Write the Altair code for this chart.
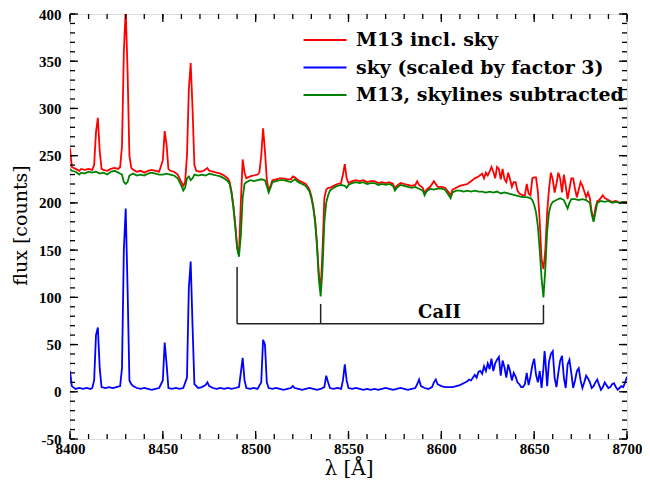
import altair as alt
import pandas as pd

# ---- data (wavelength [A], flux [counts]) ----
m13_sky = [
    (8400, 258), (8401, 238), (8403, 236), (8405, 234), (8406, 236), (8408, 235), (8410, 236),
    (8412, 235), (8413, 240), (8414, 275), (8415, 290), (8416, 255), (8417, 236), (8418, 235),
    (8420, 234), (8422, 236), (8424, 237), (8426, 236), (8427, 238), (8428, 260), (8429, 360),
    (8430, 405), (8431, 340), (8432, 250), (8433, 237), (8434, 235), (8436, 233), (8438, 234),
    (8440, 232), (8442, 234), (8444, 235), (8446, 234), (8448, 233), (8450, 245), (8451, 276),
    (8452, 262), (8453, 236), (8454, 234), (8456, 233), (8458, 230), (8460, 222), (8461, 218),
    (8462, 222), (8463, 250), (8464, 320), (8465, 348), (8466, 300), (8467, 240), (8468, 234),
    (8470, 233), (8472, 234), (8474, 237), (8475, 234), (8477, 233), (8479, 232), (8481, 231),
    (8483, 229), (8485, 226), (8486, 222), (8487, 212), (8488, 197), (8489, 177), (8490, 154),
    (8491, 145), (8492, 200), (8493, 246), (8494, 232), (8495, 226), (8497, 228), (8499, 229),
    (8501, 230), (8502, 232), (8503, 250), (8504, 279), (8505, 255), (8506, 225), (8507, 213),
    (8508, 218), (8509, 224), (8511, 225), (8513, 226), (8515, 226), (8517, 225), (8519, 225),
    (8520, 228), (8521, 227), (8523, 224), (8525, 222), (8527, 220), (8528, 217), (8529, 214),
    (8530, 207), (8531, 197), (8532, 182), (8533, 158), (8534, 125), (8535, 107), (8536, 150),
    (8537, 205), (8538, 214), (8539, 216), (8540, 216), (8542, 218), (8544, 220), (8546, 221),
    (8547, 230), (8548, 241), (8549, 226), (8550, 221), (8552, 223), (8554, 224), (8556, 223),
    (8558, 224), (8560, 222), (8562, 223), (8564, 223), (8566, 221), (8568, 222), (8570, 221),
    (8572, 222), (8574, 220), (8575, 215), (8576, 218), (8578, 221), (8580, 220), (8582, 219),
    (8584, 218), (8586, 219), (8587, 223), (8588, 219), (8590, 216), (8591, 210), (8592, 214),
    (8594, 217), (8596, 223), (8597, 220), (8598, 217), (8600, 217), (8602, 216), (8604, 211),
    (8605, 208), (8606, 214), (8608, 216), (8610, 218), (8612, 219), (8614, 220), (8616, 223),
    (8618, 226), (8620, 228), (8622, 231), (8623, 226), (8624, 232), (8625, 229), (8626, 233),
    (8627, 238), (8628, 233), (8629, 226), (8630, 238), (8631, 236), (8632, 225), (8633, 236),
    (8634, 225), (8635, 222), (8636, 232), (8637, 225), (8638, 217), (8639, 222), (8640, 222),
    (8641, 213), (8642, 210), (8644, 208), (8645, 208), (8646, 220), (8647, 210), (8648, 208),
    (8649, 226), (8650, 227), (8651, 227), (8652, 212), (8653, 180), (8654, 140), (8655, 130),
    (8656, 150), (8657, 190), (8658, 215), (8659, 232), (8660, 225), (8661, 211), (8662, 220),
    (8663, 232), (8664, 226), (8665, 211), (8666, 230), (8667, 218), (8668, 204), (8669, 215),
    (8670, 226), (8671, 226), (8672, 215), (8673, 206), (8674, 214), (8675, 222), (8676, 218),
    (8677, 212), (8678, 206), (8679, 211), (8680, 205), (8681, 190), (8682, 182), (8683, 195),
    (8684, 202), (8685, 203), (8687, 208), (8688, 205), (8690, 203), (8692, 201), (8694, 202),
    (8696, 200), (8698, 201), (8700, 201),
]

sky_scaled = [
    (8400, 22), (8401, 6), (8403, 3), (8405, 4), (8407, 3), (8409, 4), (8411, 3), (8412, 4),
    (8413, 12), (8414, 60), (8415, 68), (8416, 25), (8417, 5), (8419, 4), (8421, 5), (8423, 4),
    (8425, 5), (8427, 6), (8428, 25), (8429, 150), (8430, 194), (8431, 110), (8432, 12),
    (8433, 8), (8434, 6), (8436, 4), (8438, 3), (8440, 4), (8442, 3), (8444, 2), (8446, 3),
    (8448, 4), (8450, 12), (8451, 52), (8452, 30), (8453, 4), (8455, 3), (8457, 4), (8459, 3),
    (8461, 4), (8463, 15), (8464, 110), (8465, 138), (8466, 70), (8467, 8), (8469, 4),
    (8471, 5), (8473, 7), (8474, 10), (8475, 6), (8477, 4), (8479, 3), (8481, 4), (8483, 3),
    (8485, 4), (8487, 3), (8489, 4), (8491, 5), (8492, 20), (8493, 36), (8494, 12), (8495, 4),
    (8497, 3), (8499, 4), (8501, 3), (8503, 10), (8504, 55), (8505, 50), (8506, 10), (8507, 4),
    (8509, 3), (8511, 4), (8513, 3), (8515, 2), (8517, 3), (8519, 4), (8520, 6), (8521, 4),
    (8523, 3), (8525, 2), (8527, 3), (8529, 4), (8531, 3), (8533, 2), (8535, 3), (8537, 5),
    (8538, 17), (8539, 10), (8540, 4), (8542, 3), (8544, 4), (8546, 3), (8547, 12), (8548, 29),
    (8549, 12), (8550, 4), (8552, 3), (8554, 4), (8556, 3), (8558, 2), (8560, 3), (8562, 2),
    (8564, 3), (8566, 2), (8568, 3), (8570, 4), (8572, 3), (8574, 2), (8576, 3), (8578, 4),
    (8580, 3), (8582, 2), (8584, 3), (8586, 4), (8587, 8), (8588, 13), (8589, 6), (8591, 4),
    (8593, 3), (8595, 5), (8596, 10), (8597, 13), (8598, 8), (8600, 6), (8602, 5), (8604, 5),
    (8606, 5), (8608, 6), (8610, 7), (8612, 9), (8614, 11), (8615, 13), (8616, 12), (8618, 18),
    (8619, 15), (8620, 21), (8621, 22), (8622, 19), (8623, 27), (8624, 22), (8625, 30),
    (8626, 24), (8627, 35), (8628, 22), (8629, 30), (8630, 34), (8631, 37), (8632, 17),
    (8633, 33), (8634, 26), (8635, 15), (8636, 29), (8637, 22), (8638, 12), (8639, 20),
    (8640, 16), (8641, 10), (8642, 8), (8643, 5), (8644, 5), (8645, 8), (8646, 20), (8647, 7),
    (8648, 16), (8649, 28), (8650, 35), (8651, 18), (8652, 10), (8653, 22), (8654, 4),
    (8655, 25), (8655.6, 43), (8656, 35), (8657, 6), (8658, 32), (8659, 40), (8660, 43),
    (8661, 15), (8662, 5), (8663, 20), (8664, 33), (8665, 38), (8666, 15), (8667, 4), (8668, 29),
    (8669, 34), (8670, 20), (8671, 4), (8672, 12), (8673, 22), (8674, 25), (8675, 12), (8676, 4),
    (8677, 10), (8678, 17), (8679, 14), (8680, 10), (8681, 4), (8682, 6), (8683, 10), (8684, 13),
    (8685, 7), (8686, 2), (8687, 5), (8688, 10), (8689, 7), (8690, 4), (8691, 5), (8692, 8),
    (8693, 9), (8694, 5), (8695, 2), (8696, 4), (8697, 6), (8698, 5), (8699, 10), (8700, 16),
]

m13_sub = [
    (8400, 236), (8401, 234), (8403, 233), (8405, 230), (8406, 232), (8408, 231), (8410, 233),
    (8412, 232), (8414, 233), (8416, 231), (8418, 232), (8420, 230), (8422, 233), (8424, 234),
    (8426, 232), (8428, 230), (8429, 222), (8430, 220), (8431, 222), (8432, 229), (8434, 231),
    (8436, 229), (8438, 230), (8440, 229), (8442, 231), (8444, 232), (8446, 231), (8448, 230),
    (8450, 230), (8452, 231), (8454, 230), (8456, 229), (8458, 226), (8460, 218), (8461, 213),
    (8462, 216), (8463, 226), (8464, 228), (8465, 224), (8466, 226), (8467, 230), (8469, 229),
    (8471, 230), (8473, 229), (8475, 231), (8477, 230), (8479, 229), (8481, 228), (8483, 226),
    (8485, 223), (8486, 220), (8487, 210), (8488, 195), (8489, 175), (8490, 152), (8491, 143),
    (8492, 165), (8493, 205), (8494, 220), (8495, 222), (8497, 224), (8499, 223), (8501, 224),
    (8503, 225), (8505, 224), (8506, 218), (8507, 211), (8508, 216), (8509, 222), (8511, 223),
    (8513, 224), (8515, 224), (8517, 223), (8519, 222), (8521, 225), (8523, 222), (8525, 220),
    (8527, 218), (8528, 215), (8529, 212), (8530, 205), (8531, 195), (8532, 180), (8533, 155),
    (8534, 120), (8535, 101), (8536, 130), (8537, 180), (8538, 200), (8539, 208), (8540, 213),
    (8542, 216), (8544, 218), (8546, 219), (8548, 218), (8549, 216), (8550, 219), (8552, 221),
    (8554, 222), (8556, 221), (8558, 222), (8560, 220), (8562, 221), (8564, 221), (8566, 219),
    (8568, 220), (8570, 219), (8572, 220), (8574, 218), (8575, 213), (8576, 216), (8578, 219),
    (8580, 218), (8582, 217), (8584, 216), (8586, 217), (8588, 215), (8590, 213), (8591, 208),
    (8592, 212), (8594, 215), (8596, 214), (8598, 215), (8600, 215), (8602, 214), (8604, 208),
    (8605, 205), (8606, 211), (8608, 213), (8610, 213), (8612, 212), (8614, 213), (8616, 212),
    (8618, 213), (8620, 212), (8622, 212), (8624, 211), (8626, 212), (8628, 211), (8630, 212),
    (8632, 210), (8634, 211), (8636, 210), (8638, 209), (8640, 208), (8642, 207), (8644, 206),
    (8646, 206), (8648, 205), (8649, 203), (8650, 198), (8651, 190), (8652, 175), (8653, 150),
    (8654, 120), (8655, 100), (8656, 130), (8657, 170), (8658, 190), (8659, 198), (8660, 201),
    (8662, 203), (8664, 205), (8666, 203), (8668, 194), (8669, 200), (8670, 204), (8672, 204),
    (8674, 203), (8676, 204), (8678, 203), (8680, 200), (8681, 188), (8682, 180), (8683, 190),
    (8684, 200), (8686, 202), (8688, 201), (8690, 202), (8692, 200), (8694, 201), (8696, 200),
    (8698, 201), (8700, 200),
]

series_names = ["M13 incl. sky", "sky (scaled by factor 3)", "M13, skylines subtracted"]
series_colors = ["#ff0000", "#0000ff", "#008000"]

# Ca II triplet marker (wavelengths of the three lines and bracket levels)
caii_lines = [8490, 8535, 8655]
caii_tops = [132, 93, 92]
caii_base = 72
caii_label = ("CaII", 8599, 83)

x_major = [8400, 8450, 8500, 8550, 8600, 8650, 8700]
x_minor = list(range(8400, 8701, 10))
y_major = [-50, 0, 50, 100, 150, 200, 250, 300, 350, 400]
y_minor = list(range(-50, 401, 10))

W, H = 557, 425
SERIF = "DejaVu Serif"
LABEL_FONT = "Liberation Serif"

xscale = alt.Scale(domain=[8400, 8700], nice=False, zero=False)
yscale = alt.Scale(domain=[-50, 400], nice=False, zero=False)
cscale = alt.Scale(domain=series_names, range=series_colors)

x_axis = alt.Axis(values=x_major, ticks=False, domain=False, grid=False,
                  labelFont=LABEL_FONT, labelFontWeight="bold", labelFontSize=15,
                  labelColor="#000", labelPadding=2, labelExpr="'' + datum.value",
                  labelFlush=False, labelOverlap=False,
                  title="λ [Å]", titleFont=SERIF, titleFontWeight="normal",
                  titleFontSize=20, titleColor="#000", titleY=29, titleBaseline="middle")
y_axis = alt.Axis(values=y_major, ticks=False, domain=False, grid=False,
                  labelFont=LABEL_FONT, labelFontWeight="bold", labelFontSize=15,
                  labelColor="#000", labelPadding=9, labelExpr="'' + datum.value",
                  labelFlush=False, labelOverlap=False,
                  title="flux [counts]", titleFont=SERIF, titleFontWeight="normal",
                  titleFontSize=19, titleColor="#000", titleAngle=270,
                  titleX=-50, titleY=211, titleAlign="center", titleBaseline="middle")


def X(field):
    return alt.X(field, scale=xscale, axis=x_axis)


def Y(field):
    return alt.Y(field, scale=yscale, axis=y_axis)


def frame(pairs, name):
    return pd.DataFrame({"wl": [p[0] for p in pairs], "flux": [p[1] for p in pairs],
                         "series": name})


# a line symbol twice as long as the (small) symbol box
legend = alt.Legend(title=None, orient="none", legendX=243, legendY=14,
                    symbolType="M-2,0L2,0", symbolSize=462, symbolStrokeWidth=2,
                    labelFont=SERIF, labelFontWeight="bold", labelFontSize=19,
                    labelColor="#000", labelOffset=19, labelLimit=0, rowPadding=5.5, padding=0)

line_layers = []
for pairs, name in zip([m13_sky, sky_scaled, m13_sub], series_names):
    line_layers.append(
        alt.Chart(frame(pairs, name)).mark_line(strokeWidth=1.8, clip=True).encode(
            x=X("wl:Q"), y=Y("flux:Q"),
            color=alt.Color("series:N", scale=cscale, legend=legend),
        )
    )

# Ca II bracket
seg_df = pd.DataFrame({
    "x": caii_lines + [caii_lines[0]],
    "x2": caii_lines + [caii_lines[-1]],
    "y": caii_tops + [caii_base],
    "y2": [caii_base] * 3 + [caii_base],
})
bracket = alt.Chart(seg_df).mark_rule(color="#222", strokeWidth=1.5).encode(
    x=X("x:Q"), x2="x2:Q", y=Y("y:Q"), y2="y2:Q",
)
label_df = pd.DataFrame({"t": [caii_label[0]], "x": [caii_label[1]], "y": [caii_label[2]]})
caii_text = alt.Chart(label_df).mark_text(font=SERIF, fontWeight="bold", fontSize=18,
                                          color="#000", baseline="middle").encode(
    x=X("x:Q"), y=Y("y:Q"), text="t:N")


# inward ticks on all four sides
def yticks(vals, length):
    df = pd.DataFrame({"v": vals})
    left = alt.Chart(df).mark_rule(color="#000", strokeWidth=1.3).encode(
        y=Y("v:Q"), x=alt.value(0), x2=alt.value(length))
    right = alt.Chart(df).mark_rule(color="#000", strokeWidth=1.3).encode(
        y=Y("v:Q"), x=alt.value(W), x2=alt.value(W - length))
    return [left, right]


def xticks(vals, length):
    df = pd.DataFrame({"v": vals})
    bottom = alt.Chart(df).mark_rule(color="#000", strokeWidth=1.3).encode(
        x=X("v:Q"), y=alt.value(H), y2=alt.value(H - length))
    top = alt.Chart(df).mark_rule(color="#000", strokeWidth=1.3).encode(
        x=X("v:Q"), y=alt.value(0), y2=alt.value(length))
    return [bottom, top]


tick_layers = yticks(y_minor, 5) + yticks(y_major, 8) + xticks(x_minor, 5) + xticks(x_major, 8)

chart = alt.layer(*line_layers, bracket, caii_text, *tick_layers).properties(
    width=W, height=H,
    autosize=alt.AutoSizeParams(type="none"),
    padding={"left": 62, "top": 6, "right": 15, "bottom": 39},
).configure_view(stroke="#000", strokeWidth=1.6).configure(background="white")

chart.save("out.html", embed_options={"renderer": "svg", "actions": False})
